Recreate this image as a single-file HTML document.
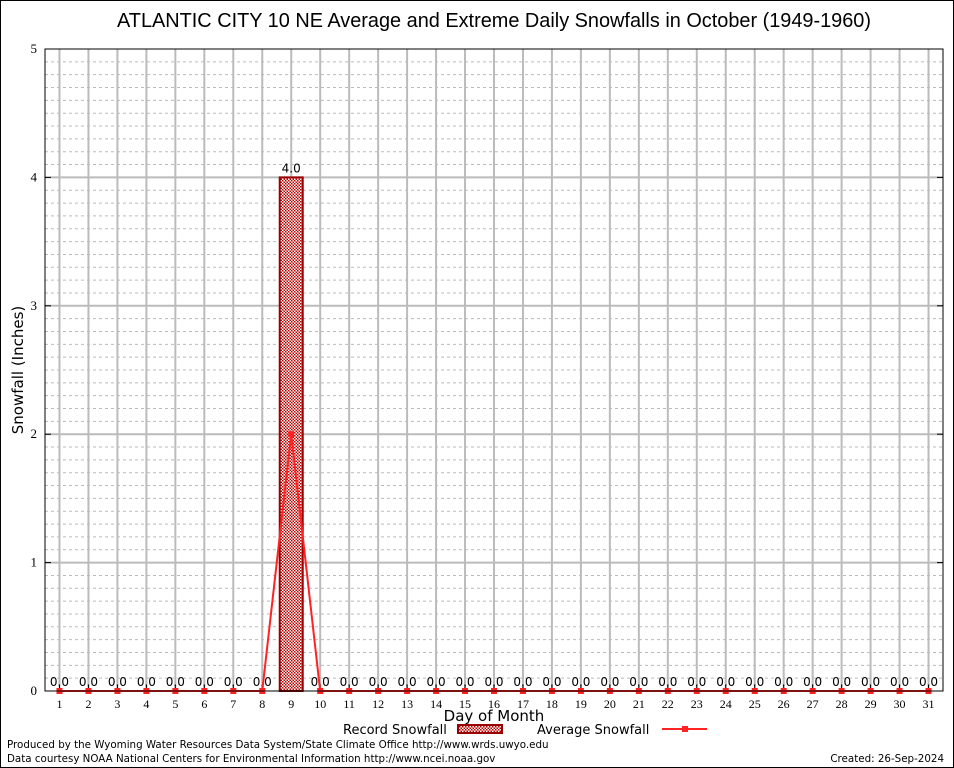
<!DOCTYPE html>
<html><head><meta charset="utf-8"><style>
body{margin:0;background:#fff;}
svg{display:block;font-family:"DejaVu Sans","Liberation Sans",sans-serif;}
</style></head><body>
<svg id="c" width="954" height="768" viewBox="0 0 954 768">
<defs><pattern id="chk" width="3" height="3" patternUnits="userSpaceOnUse"><rect width="3" height="3" fill="#fff"/><rect width="1.5" height="1.5" fill="#b00"/><rect x="1.5" y="1.5" width="1.5" height="1.5" fill="#b00"/></pattern></defs>
<rect x="0.5" y="0.5" width="953" height="767" fill="#fff" stroke="#000"/>
<text x="494" y="27" font-size="19.9" text-anchor="middle" font-family="Liberation Sans, sans-serif">ATLANTIC CITY 10 NE Average and Extreme Daily Snowfalls in October (1949-1960)</text>
<g id="grid"></g><g id="marks"></g>
<rect x="45" y="49" width="898" height="642" fill="none" stroke="#000"/>
<text transform="translate(23,370) rotate(-90)" font-size="15" text-anchor="middle">Snowfall (Inches)</text>
<text x="494" y="721" font-size="15" text-anchor="middle">Day of Month</text>
<g>
<text x="343" y="734" font-size="13">Record Snowfall</text>
<rect x="458" y="725" width="44" height="8" fill="url(#chk)" stroke="#900" stroke-width="2"/>
<text x="537" y="734" font-size="13">Average Snowfall</text>
<line x1="662" y1="729" x2="707" y2="729" stroke="#f22" stroke-width="2"/>
<rect x="682" y="726" width="6" height="6" fill="#f22"/>
</g>
<text x="7" y="748" font-size="10.3">Produced by the Wyoming Water Resources Data System/State Climate Office http://www.wrds.uwyo.edu</text>
<text x="7" y="762" font-size="10.3">Data courtesy NOAA National Centers for Environmental Information http://www.ncei.noaa.gov</text>
<text x="944" y="762" font-size="10.3" text-anchor="end">Created:  26-Sep-2024</text>
</svg>
<script>
const days = Array.from({length:31},(_,i)=>i+1);
const recordSnow = [0,0,0,0,0,0,0,0,4.0,0,0,0,0,0,0,0,0,0,0,0,0,0,0,0,0,0,0,0,0,0,0];
const avgSnow = [0,0,0,0,0,0,0,0,2.0,0,0,0,0,0,0,0,0,0,0,0,0,0,0,0,0,0,0,0,0,0,0];
const yTicks = [0,1,2,3,4,5];
const NS='http://www.w3.org/2000/svg';
const X0=45,X1=943,Y0=691,Y1=49;
const x=d=>X0+(d-0.5)*(X1-X0)/31;
const y=v=>Y0-v*(Y0-Y1)/5;
function mk(t,a,p){const e=document.createElementNS(NS,t);for(const k in a)e.setAttribute(k,a[k]);p.appendChild(e);return e;}
const g=document.getElementById('grid'),m=document.getElementById('marks');
for(let i=1;i<50;i++){if(i%10==0)continue;const l=mk('line',{x1:X0,x2:X1,y1:y(i/10),y2:y(i/10),stroke:'#bbb','stroke-dasharray':'3,3'},g);

}
days.forEach(d=>{const l=mk('line',{x1:x(d),x2:x(d),y1:Y1,y2:Y0,stroke:'#bbb','stroke-width':2},g);


const t=mk('text',{x:x(d),y:708,'font-size':12,'text-anchor':'middle','font-family':'Liberation Serif, serif'},g);t.textContent=d;


mk('line',{x1:x(d),x2:x(d),y1:Y0,y2:Y0-5,stroke:'#000'},g);});
yTicks.forEach(v=>{if(v>0&&v<5){const l=mk('line',{x1:X0,x2:X1,y1:y(v),y2:y(v),stroke:'#bbb','stroke-width':2},g);

}
mk('line',{x1:X0,x2:X0+6,y1:y(v),y2:y(v),stroke:'#000'},g);mk('line',{x1:X1-6,x2:X1,y1:y(v),y2:y(v),stroke:'#000'},g);
const t=mk('text',{x:X0-8,y:y(v)+4,'font-size':13,'text-anchor':'end','font-family':'Liberation Serif, serif'},g);t.textContent=v;

});
days.forEach((d,i)=>{const v=recordSnow[i];
if(v>0){const r=mk('rect',{x:x(d)-11.5,y:y(v),width:23,height:y(0)-y(v),fill:'url(#chk)',stroke:'#900','stroke-width':2},m);

}
const t=mk('text',{x:x(d),y:y(v)-5,'font-size':12,'text-anchor':'middle'},m);t.textContent=v.toFixed(1);

});
const pl=mk('polyline',{points:days.map((d,i)=>x(d)+','+y(avgSnow[i])).join(' '),fill:'none',stroke:'#f22','stroke-width':2},m);


days.forEach((d,i)=>{const r=mk('rect',{x:x(d)-3,y:y(avgSnow[i])-3,width:6,height:6,fill:'#f22'},m);

});
</script>
</body></html>
